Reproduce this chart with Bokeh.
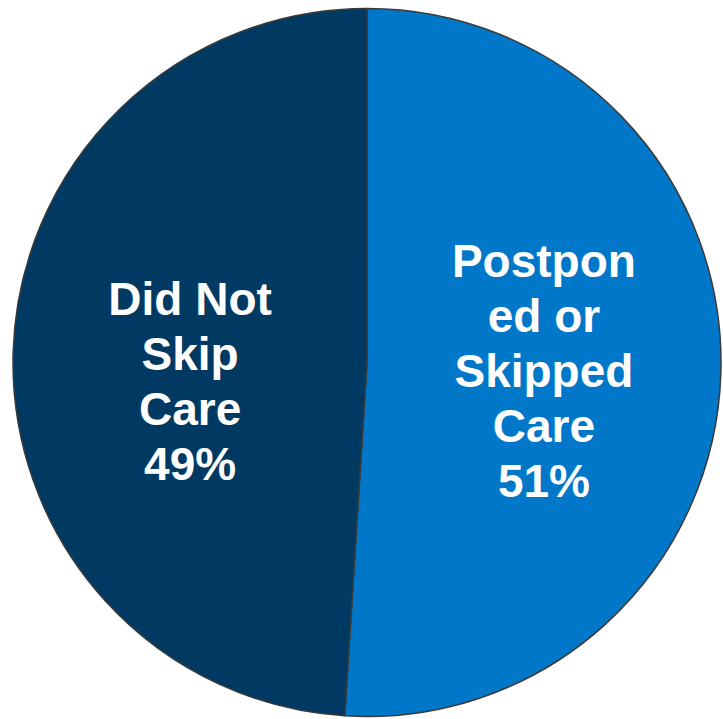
import math
from bokeh.plotting import figure
from bokeh.models import Range1d, ColumnDataSource
from bokeh.core.properties import value
from bokeh.embed import file_html
from bokeh.resources import INLINE

# ---- data ----
categories = ["Postponed or Skipped Care", "Did Not Skip Care"]
label_lines = [["Postpon", "ed or", "Skipped", "Care", "51%"],
               ["Did Not", "Skip", "Care", "49%"]]
shares = [51, 49]
colors = ["#0077C8", "#003A63"]

W, H = 723, 719
cx, cy, R = 366.5, H - 362, 354
font_px = 46
line_gap = 55
cap = 0.716 * font_px
label_frac = 0.5
label_nudge = [13.5, -8]   # vertical nudges (px, up positive)

p = figure(width=W, height=H, output_backend="svg", toolbar_location=None,
           x_range=Range1d(0, W), y_range=Range1d(0, H), min_border=0)
p.axis.visible = False
p.grid.visible = False
p.outline_line_color = None
p.background_fill_color = "white"
p.border_fill_color = "white"

total = float(sum(shares))
starts, ends, mids = [], [], []
cum = 0.0
for s in shares:
    a0 = math.pi / 2 - 2 * math.pi * cum / total
    cum += s
    a1 = math.pi / 2 - 2 * math.pi * cum / total
    starts.append(a0)
    ends.append(a1)
    mids.append((a0 + a1) / 2)

src = ColumnDataSource(dict(start=starts, end=ends, color=colors, cat=categories))
p.wedge(x=cx, y=cy, radius=R, start_angle="start", end_angle="end",
        direction="clock", fill_color="color", line_color="#3a3a3a",
        line_width=1.5, source=src)

tx, ty, tt = [], [], []
for lines, m, nud in zip(label_lines, mids, label_nudge):
    lx = cx + label_frac * R * math.cos(m)
    ly = cy + label_frac * R * math.sin(m) + nud
    n = len(lines)
    for i, t in enumerate(lines):
        tx.append(lx)
        ty.append(ly - cap / 2 - (i - (n - 1) / 2) * line_gap)
        tt.append(t)

p.text(x=tx, y=ty, text=tt, text_color="white", text_font=value("Liberation Sans"),
       text_font_style="bold", text_font_size=f"{font_px}px",
       text_align="center", text_baseline="alphabetic")

open("out.html", "w").write(file_html(p, INLINE))
